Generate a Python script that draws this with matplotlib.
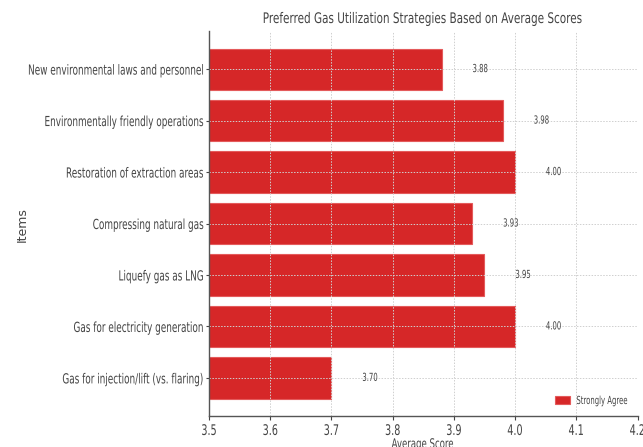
import matplotlib
matplotlib.use("Agg")
import matplotlib.pyplot as plt
from matplotlib.patheffects import AbstractPathEffect
from matplotlib.transforms import Affine2D

plt.rcParams['font.family'] = ['DejaVu Sans']

items = [
    "New environmental laws and personnel",
    "Environmentally friendly operations",
    "Restoration of extraction areas",
    "Compressing natural gas",
    "Liquefy gas as LNG",
    "Gas for electricity generation",
    "Gas for injection/lift (vs. flaring)",
]
scores = [3.88, 3.98, 4.00, 3.93, 3.95, 4.00, 3.70]
xticks = [3.5, 3.6, 3.7, 3.8, 3.9, 4.0, 4.1, 4.2]


class Squash(AbstractPathEffect):
    """Draw text horizontally condensed (the reference uses narrow glyphs)."""

    def __init__(self, sx=0.62, anchor="center"):
        super().__init__()
        self.sx = sx
        self.anchor = anchor

    def draw_path(self, renderer, gc, tpath, affine, rgbFace=None):
        ext = tpath.get_extents(affine)
        if self.anchor == "left":
            x0 = ext.x0
        elif self.anchor == "right":
            x0 = ext.x1
        else:
            x0 = 0.5 * (ext.x0 + ext.x1)
        new = affine + Affine2D().translate(-x0, 0).scale(self.sx, 1).translate(x0, 0)
        renderer.draw_path(gc, tpath, new, rgbFace)


SX = 0.62
text_col = "#444444"
W, H = 643, 447
fig = plt.figure(figsize=(W / 100, H / 100), dpi=100)
ax = fig.add_axes([209 / W, 1 - 416 / H, 428.5 / W, 385 / H])

bars = ax.barh(items, scores, height=0.8, color="#d62728", edgecolor="#e45a5b",
               linewidth=0.8, label="Strongly Agree")
ax.invert_yaxis()
ax.set_xlim(3.5, 4.2)
ax.set_xticks(xticks)
ax.set_xticklabels([f"{t:.1f}" for t in xticks])

for b, v in zip(bars, scores):
    t = ax.text(v + 0.05, b.get_y() + b.get_height() / 2, f"{v:.2f}",
                va="center", ha="left", fontsize=8, color=text_col)
    t.set_path_effects([Squash(SX, "left")])

ax.set_axisbelow(False)
ax.grid(True, linestyle=(0, (1.5, 1.5)), color="#cfcfcf", linewidth=0.7)
for s in ["top", "right"]:
    ax.spines[s].set_visible(False)
for s in ["left", "bottom"]:
    ax.spines[s].set_color("#555555")
    ax.spines[s].set_linewidth(1.0)
    ax.spines[s].set_zorder(3)
ax.tick_params(axis="y", colors=text_col, labelsize=10, length=2, width=0.8, pad=1.5)
ax.tick_params(axis="x", colors=text_col, labelsize=10.5, length=3, width=0.8, pad=2)

for lbl in ax.get_yticklabels():
    lbl.set_path_effects([Squash(0.64, "right")])
for lbl in ax.get_xticklabels():
    lbl.set_path_effects([Squash(0.66, "center")])

xl = ax.set_xlabel("Average Score", fontsize=9.5, color=text_col, labelpad=0)
xl.set_path_effects([Squash(0.65, "center")])

yl = fig.text(22 / W, 1 - 225 / H, "Items", rotation=90, ha="center", va="center",
              fontsize=9, color=text_col)

tt = fig.text(423.5 / W, 1 - 18.5 / H,
              "Preferred Gas Utilization Strategies Based on Average Scores",
              ha="center", va="center", fontsize=10.5, color=text_col)
tt.set_path_effects([Squash(0.716, "center")])

leg = ax.legend(loc="center left", bbox_to_anchor=(555 / W, 1 - 401 / H),
                bbox_transform=fig.transFigure, frameon=False, fontsize=8,
                borderpad=0, borderaxespad=0, handlelength=15 / 11.1,
                handleheight=7 / 11.1, handletextpad=0.55)
for t in leg.get_texts():
    t.set_color(text_col)
    t.set_path_effects([Squash(SX, "left")])

fig.savefig("out.png", dpi=100)
